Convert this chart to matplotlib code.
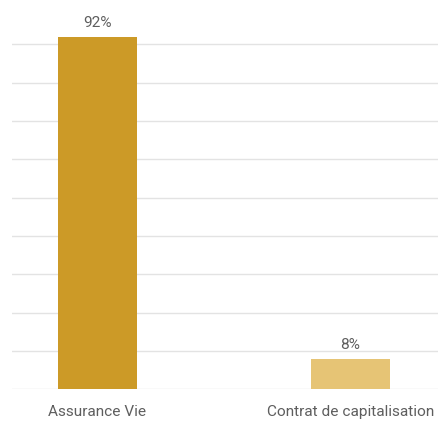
import numpy as np
import matplotlib.pyplot as plt

# data
categories = ["Assurance Vie", "Contrat de capitalisation"]
values = [92, 8]
labels = ["92%", "8%"]
colors = ["#CC9A27", "#E6C475"]

plt.rcParams['font.family'] = ['Roboto', 'DejaVu Sans']

fig = plt.figure(figsize=(4.39, 4.21), dpi=100)
H = 421
ax = fig.add_axes([12 / 439, (H - 389.3) / H, 427 / 439, 383.3 / H])

x = np.arange(len(categories))
bars = ax.bar(x, values, width=0.312, color=colors, zorder=2)

for b, lab in zip(bars, labels):
    ax.text(b.get_x() + b.get_width() / 2, b.get_height() + 2.6, lab,
            ha='center', va='baseline', fontsize=11.1, color='#5e5e5e')

ax.set_xlim(-0.338, 1.350)
ax.set_ylim(0, 100)
ax.set_yticks(np.arange(0, 91, 10))
ax.yaxis.grid(True, color='#e3e3e3', linewidth=1, zorder=0)
ax.tick_params(axis='y', left=False, labelleft=False)
ax.tick_params(axis='x', bottom=False, pad=8, labelsize=11.1, labelcolor='#5e5e5e')
ax.set_xticks(x)
ax.set_xticklabels(categories)
for s in ax.spines.values():
    s.set_visible(False)

fig.savefig("out.png", dpi=100)
